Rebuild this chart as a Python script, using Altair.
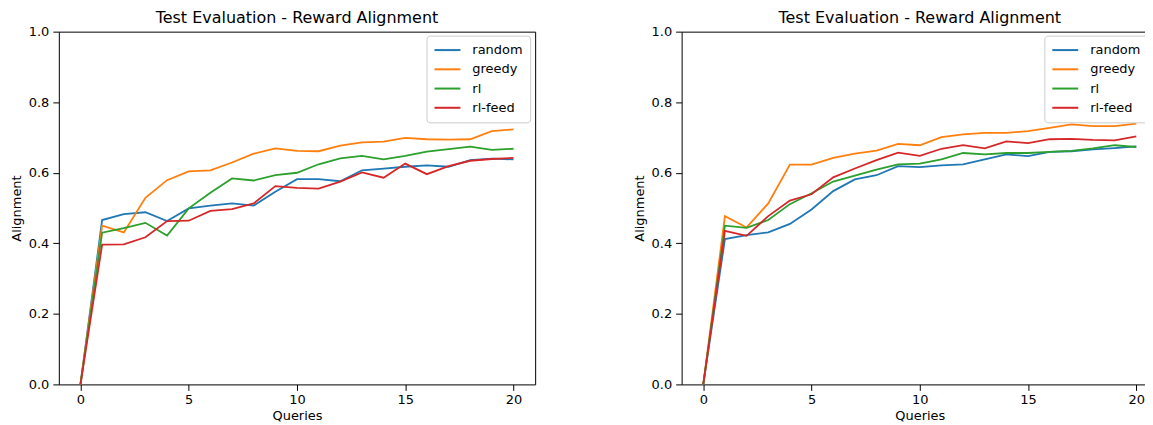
import altair as alt
import pandas as pd

queries = list(range(21))
series = ["random", "greedy", "rl", "rl-feed"]
colors = ["#1f77b4", "#ff7f0e", "#2ca02c", "#d62728"]
title_text = "Test Evaluation - Reward Alignment"

left_random = [0.0, 0.466, 0.483, 0.488, 0.463, 0.499, 0.507, 0.513, 0.507, 0.546, 0.582,
               0.582, 0.576, 0.607, 0.612, 0.617, 0.621, 0.617, 0.636, 0.640, 0.638]
left_greedy = [0.0, 0.450, 0.431, 0.529, 0.579, 0.604, 0.607, 0.629, 0.654, 0.669, 0.662,
               0.661, 0.677, 0.686, 0.688, 0.699, 0.695, 0.694, 0.695, 0.718, 0.723]
left_rl = [0.0, 0.430, 0.443, 0.458, 0.422, 0.499, 0.543, 0.584, 0.578, 0.593, 0.600,
           0.624, 0.641, 0.648, 0.638, 0.648, 0.660, 0.667, 0.674, 0.665, 0.668]
left_rlfeed = [0.0, 0.396, 0.397, 0.417, 0.463, 0.464, 0.492, 0.497, 0.513, 0.562, 0.557,
               0.555, 0.575, 0.601, 0.586, 0.626, 0.596, 0.619, 0.634, 0.639, 0.642]

right_random = [0.0, 0.412, 0.423, 0.431, 0.455, 0.496, 0.548, 0.581, 0.593, 0.619, 0.616,
                0.621, 0.624, 0.638, 0.652, 0.647, 0.659, 0.661, 0.666, 0.670, 0.675]
right_greedy = [0.0, 0.477, 0.445, 0.513, 0.623, 0.623, 0.642, 0.654, 0.663, 0.682, 0.678,
                0.701, 0.709, 0.713, 0.713, 0.718, 0.727, 0.737, 0.732, 0.732, 0.739]
right_rl = [0.0, 0.450, 0.444, 0.466, 0.511, 0.542, 0.575, 0.592, 0.609, 0.624, 0.626,
            0.638, 0.656, 0.652, 0.656, 0.656, 0.659, 0.662, 0.669, 0.678, 0.673]
right_rlfeed = [0.0, 0.435, 0.421, 0.477, 0.521, 0.539, 0.587, 0.612, 0.636, 0.657, 0.648,
                0.668, 0.678, 0.669, 0.689, 0.684, 0.695, 0.696, 0.693, 0.692, 0.703]


def long_df(vals):
    rows = []
    for name, v in zip(series, vals):
        for q, a in zip(queries, v):
            rows.append({"Queries": q, "Alignment": a, "method": name})
    return pd.DataFrame(rows)


left_df = long_df([left_random, left_greedy, left_rl, left_rlfeed])
right_df = long_df([right_random, right_greedy, right_rl, right_rlfeed])

FONT = "DejaVu Sans"


def panel(df, legend_x):
    x = alt.X("Queries:Q",
              scale=alt.Scale(domain=[-1, 21], nice=False, zero=False),
              axis=alt.Axis(values=[0, 5, 10, 15, 20], title="Queries",
                            labelPadding=3, titlePadding=3))
    y = alt.Y("Alignment:Q",
              scale=alt.Scale(domain=[0, 1], nice=False),
              axis=alt.Axis(values=[0, 0.2, 0.4, 0.6, 0.8, 1.0], format=".1f",
                            title="Alignment", labelPadding=4, titlePadding=5))
    lines = alt.Chart(df).mark_line(strokeWidth=1.8).encode(
        x=x,
        y=y,
        color=alt.Color("method:N",
                        scale=alt.Scale(domain=series, range=colors),
                        sort=series,
                        legend=alt.Legend(title=None, orient="none",
                                          legendX=legend_x, legendY=4)),
    )
    return lines.properties(
        width=478, height=354,
        title=alt.TitleParams(title_text, fontSize=16, font=FONT,
                              fontWeight="normal", color="black", offset=0),
    )


left = panel(left_df, 369)
right = panel(right_df, 364)

chart = alt.hconcat(left, right, spacing=96).resolve_scale(
    color="independent"
).resolve_legend(color="independent").properties(
    padding={"left": 1, "top": 0, "right": -14, "bottom": 0}
).configure_view(
    stroke="black", strokeWidth=1
).configure_axis(
    grid=False, domain=False, labelFont=FONT, titleFont=FONT, labelFontSize=13,
    titleFontSize=13, titleFontWeight="normal", labelColor="black",
    titleColor="black", tickColor="black", tickSize=6,
).configure_legend(
    labelFont=FONT, labelFontSize=13, labelColor="black",
    symbolType="M-1,0H3", symbolSize=169, symbolStrokeWidth=2,
    fillColor="rgba(255,255,255,0.8)", strokeColor="#cccccc",
    cornerRadius=3, padding=7, rowPadding=4.3, labelOffset=24,
)

chart.save("out.html", embed_options={"renderer": "svg", "actions": False})
